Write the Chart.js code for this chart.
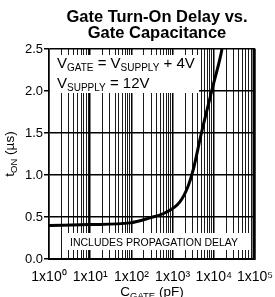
<!DOCTYPE html>
<html><head><meta charset="utf-8">
<script src="https://cdn.jsdelivr.net/npm/chart.js@4/dist/chart.umd.min.js"></script>
<style>html,body{margin:0;padding:0;background:#fff;}#wrap{width:275px;height:297px;position:relative;}</style>
</head><body><div id="wrap"><canvas id="c"></canvas></div>
<script>
const titleLines = ['Gate Turn-On Delay vs.', 'Gate Capacitance'];
const capacitancePF = [1, 10, 93, 282, 660, 1500, 2350, 3160, 5000, 8900, 14800, 15800];
const turnOnDelayUs = [0.40, 0.41, 0.43, 0.49, 0.55, 0.68, 0.86, 1.06, 1.50, 2.00, 2.43, 2.50];
const xTickValues = [1, 10, 100, 1000, 10000, 100000];
const xTickLabels = ['1x10⁰', '1x10¹', '1x10²', '1x10³', '1x10⁴', '1x10⁵'];
const minorMultipliers = [2, 3, 4, 5, 6, 7, 8, 9];
const yTickValues = [0, 0.5, 1.0, 1.5, 2.0, 2.5];
const yTickLabels = ['0.0', '0.5', '1.0', '1.5', '2.0', '2.5'];
const note1 = [['V', 0], ['GATE', 1], [' = V', 0], ['SUPPLY', 1], [' + 4V', 0]];
const note2 = [['V', 0], ['SUPPLY', 1], [' = 12V', 0]];
const note3 = 'INCLUDES PROPAGATION DELAY';
const yTitle = [['t', 0], ['ON', 1], [' (µs)', 0]];
const xTitle = [['C', 0], ['GATE', 1], [' (pF)', 0]];

const FAM = "'Liberation Sans', Arial, Helvetica, sans-serif";

function drawRich(ctx, segs, x, y, size, subSize, subDy, align) {
  let total = 0;
  const widths = segs.map(s => {
    ctx.font = (s[1] ? subSize : size) + 'px ' + FAM;
    const w = ctx.measureText(s[0]).width;
    total += w;
    return w;
  });
  let cx = align === 'center' ? x - total / 2 : x;
  ctx.textAlign = 'left';
  ctx.textBaseline = 'alphabetic';
  segs.forEach((s, i) => {
    ctx.font = (s[1] ? subSize : size) + 'px ' + FAM;
    ctx.fillText(s[0], cx, y + (s[1] ? subDy : 0));
    cx += widths[i];
  });
}

const decor = {
  id: 'decor',
  beforeDatasetsDraw(chart) {
    const ctx = chart.ctx, a = chart.chartArea;
    ctx.save();
    ctx.fillStyle = '#fff';
    ctx.fillRect(a.left + 1, a.top + 6, 149, 38);
    ctx.fillRect(a.left + 17, a.bottom - 26, a.right - a.left - 21, 17);
    ctx.restore();
  },
  afterDraw(chart) {
    const ctx = chart.ctx, a = chart.chartArea;
    ctx.save();
    ctx.fillStyle = '#000';
    ctx.strokeStyle = '#000';
    ctx.lineWidth = 3;
    ctx.beginPath();
    ctx.moveTo(a.right - 1, a.top - 0.5);
    ctx.lineTo(a.right - 1, a.bottom + 1);
    ctx.stroke();
    ctx.font = 'bold 16.5px ' + FAM;
    ctx.textAlign = 'center';
    ctx.textBaseline = 'alphabetic';
    const cx = (a.left + a.right) / 2 + 5;
    ctx.fillText(titleLines[0], cx, 22);
    ctx.fillText(titleLines[1], cx, 38);
    drawRich(ctx, note1, a.left + 8, a.top + 19, 15, 10, 3, 'left');
    drawRich(ctx, note2, a.left + 8, a.top + 39, 15, 10, 3, 'left');
    ctx.font = '10.5px ' + FAM;
    ctx.textAlign = 'left';
    ctx.fillText(note3, a.left + 21, a.bottom - 13);
    drawRich(ctx, xTitle, (a.left + a.right) / 2, 296, 13.5, 9.5, 3, 'center');
    ctx.save();
    ctx.translate(14, (a.top + a.bottom) / 2);
    ctx.rotate(-Math.PI / 2);
    drawRich(ctx, yTitle, 0, 0, 13.5, 9.5, 3, 'center');
    ctx.restore();
    ctx.restore();
  }
};

const allXTicks = [];
xTickValues.forEach((d, i) => {
  allXTicks.push({ value: d, major: true });
  if (i < xTickValues.length - 1) minorMultipliers.forEach(m => allXTicks.push({ value: d * m, major: false }));
});

new Chart(document.getElementById('c'), {
  type: 'line',
  data: {
    datasets: [{
      data: capacitancePF.map((c, i) => ({ x: c, y: turnOnDelayUs[i] })),
      borderColor: '#000',
      borderWidth: 3,
      pointRadius: 0,
      fill: false,
      cubicInterpolationMode: 'monotone'
    }]
  },
  options: {
    responsive: true,
    maintainAspectRatio: false,
    animation: false,
    layout: { padding: { top: 49, left: 0, right: 0, bottom: 0 } },
    plugins: { legend: { display: false }, tooltip: { enabled: false }, title: { display: false } },
    scales: {
      x: {
        type: 'logarithmic',
        min: 1, max: 100000,
        afterBuildTicks: s => { s.ticks = allXTicks.map(t => ({ value: t.value, major: t.major })); },
        afterFit: s => { s.height = 38; s.paddingLeft = 0; s.paddingRight = 20; },
        ticks: {
          autoSkip: false, maxRotation: 0, minRotation: 0, padding: 10,
          color: '#000', font: { family: FAM, size: 14 },
          callback: v => { const i = xTickValues.indexOf(v); return i >= 0 ? xTickLabels[i] : ''; }
        },
        grid: {
          drawTicks: false,
          color: ctx => (ctx.tick && ctx.tick.major) ? '#000' : '#1a1a1a',
          lineWidth: ctx => (ctx.tick && ctx.tick.major) ? 1.5 : 1
        },
        border: { display: true, color: '#000', width: 2 }
      },
      y: {
        type: 'linear',
        min: 0, max: 2.5,
        afterBuildTicks: s => { s.ticks = yTickValues.map(v => ({ value: v })); },
        afterFit: s => { s.width = 49; },
        ticks: {
          padding: 1, color: '#000', font: { family: FAM, size: 13 },
          callback: v => { const i = yTickValues.indexOf(v); return i >= 0 ? yTickLabels[i] : ''; }
        },
        grid: { color: '#000', lineWidth: 1.5, tickLength: 5, drawTicks: true },
        border: { display: true, color: '#000', width: 1.5 }
      }
    }
  },
  plugins: [decor]
});
</script>
</body></html>
